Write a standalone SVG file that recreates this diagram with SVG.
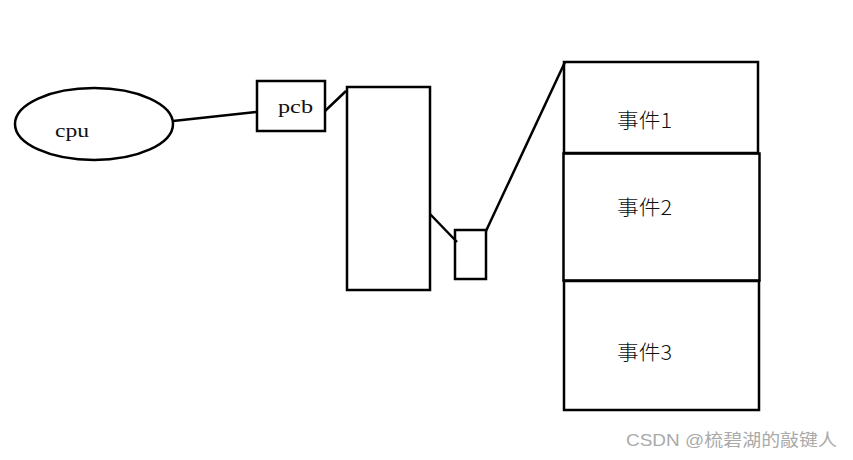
<svg xmlns="http://www.w3.org/2000/svg" width="853" height="460" viewBox="0 0 853 460">
<style>
.s{fill:none;stroke:#000;stroke-width:2.5}
.t{font-family:"Liberation Serif","Noto Sans CJK SC",serif;fill:#111}
.cj{font-family:"Noto Sans CJK SC",serif;font-size:20px;fill:#111;font-weight:300}
.w{font-family:"Liberation Sans","Noto Sans CJK SC",sans-serif;font-size:17px;fill:#aaa}
</style>
<rect width="853" height="460" fill="#fff"/>
<g id="connectors">
<line class="s" x1="173" y1="121" x2="256" y2="112"/>
<line class="s" x1="325" y1="111" x2="346" y2="91"/>
<line class="s" x1="430" y1="214" x2="457" y2="242"/>
<line class="s" x1="486" y1="231" x2="565" y2="62"/>
</g>
<g id="cpu">
<ellipse class="s" cx="94" cy="124" rx="79" ry="36"/>
<text class="t" x="55" y="137" font-size="19" textLength="34" lengthAdjust="spacingAndGlyphs">cpu</text>
</g>
<g id="pcb">
<rect class="s" x="257" y="81" width="68" height="50"/>
<text class="t" x="278" y="113" font-size="19" textLength="35" lengthAdjust="spacingAndGlyphs">pcb</text>
</g>
<g id="queue">
<rect class="s" x="347" y="87" width="83" height="203"/>
</g>
<g id="small">
<rect class="s" x="455" y="230" width="31" height="49"/>
</g>
<g id="event1">
<rect class="s" x="564" y="62" width="194" height="91"/>
<text class="cj" x="617" y="128" textLength="55" lengthAdjust="spacingAndGlyphs">事件1</text>
</g>
<g id="event3">
<rect class="s" x="564" y="281" width="195" height="129"/>
<text class="cj" x="617" y="360" textLength="55" lengthAdjust="spacingAndGlyphs">事件3</text>
</g>
<g id="event2">
<rect class="s" x="563.5" y="153.5" width="196" height="127" stroke-width="3"/>
<text class="cj" x="617" y="215" textLength="55" lengthAdjust="spacingAndGlyphs">事件2</text>
</g>
<text class="w" x="626" y="446" textLength="211" lengthAdjust="spacingAndGlyphs">CSDN @梳碧湖的敲键人</text>
</svg>
